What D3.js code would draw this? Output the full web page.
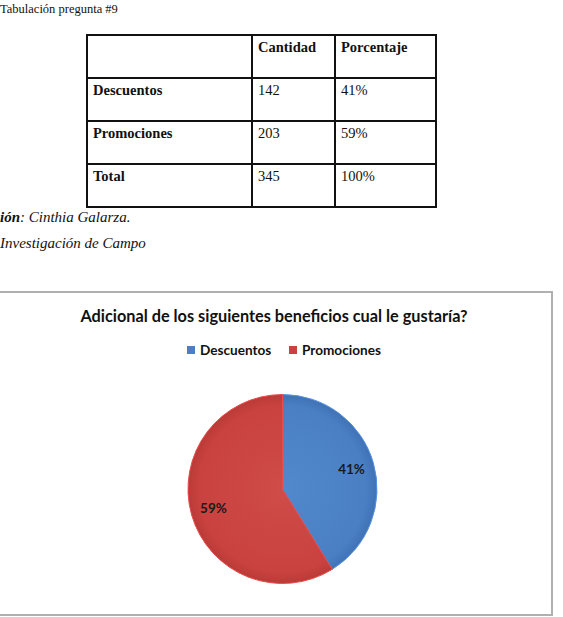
<!DOCTYPE html>
<meta charset="utf-8">
<style>
  body { margin: 0; background: #fff; }
  svg { display: block; }
  .serif { font-family: "Liberation Serif", "Times New Roman", serif; fill: #111; }
  .sans { font-family: Lato, "Open Sans", sans-serif; font-weight: bold; fill: #111; }
</style>
<body>
<script src="https://cdnjs.cloudflare.com/ajax/libs/d3/7.8.5/d3.min.js"></script>
<script>

// data
var categories = ["Descuentos", "Promociones"];
var cantidad = [142, 203];
var porcentaje = ["41%", "59%"];
var totalRow = ["Total", "345", "100%"];
var headers = ["", "Cantidad", "Porcentaje"];
var colors = ["#4a7fc4", "#c9423f"];

var W = 563, H = 617;

var svg = d3.select("body").append("svg")
    .attr("width", W)
    .attr("height", H);

svg.append("text")
    .attr("class", "serif")
    .attr("x", 0).attr("y", 13)
    .style("font-size", "12.5px")
    .text("Tabulación pregunta #9");

// ---- table ----
var rows = [headers];
categories.forEach(function(c, i) { rows.push([c, String(cantidad[i]), porcentaje[i]]); });
rows.push(totalRow);

var colX = d3.scaleOrdinal().domain([0, 1, 2, 3]).range([87, 252, 335, 436]);
var rowY = d3.scaleLinear().domain([0, rows.length]).range([35, 207]);

var table = svg.append("g");

rows.forEach(function(r, i) {
    r.forEach(function(cell, j) {
        table.append("text")
            .attr("class", "serif")
            .attr("x", colX(j) + 6)
            .attr("y", rowY(i) + 17)
            .style("font-size", "14.5px")
            .style("font-weight", (i == 0 || j == 0) ? "bold" : "normal")
            .text(cell);
    });
});

d3.range(rows.length + 1).forEach(function(i) {
    table.append("line")
        .attr("x1", colX(0)).attr("x2", colX(3))
        .attr("y1", rowY(i)).attr("y2", rowY(i))
        .attr("stroke", "#111").attr("stroke-width", 2);
});
d3.range(4).forEach(function(j) {
    table.append("line")
        .attr("x1", colX(j)).attr("x2", colX(j))
        .attr("y1", rowY(0) - 1).attr("y2", rowY(rows.length) + 1)
        .attr("stroke", "#111").attr("stroke-width", 2);
});

// captions (the scan shows them cut at the left edge)
var cap1 = svg.append("text").attr("class", "serif")
    .attr("x", 0).attr("y", 222)
    .style("font-size", "15px").style("font-style", "italic");
cap1.append("tspan").style("font-weight", "bold").text("ión");
cap1.append("tspan").text(": Cinthia Galarza.");

svg.append("text").attr("class", "serif")
    .attr("x", 0).attr("y", 248)
    .style("font-size", "15px").style("font-style", "italic")
    .text("Investigación de Campo");

// ---- chart box ----
svg.append("rect")
    .attr("x", -6).attr("y", 292)
    .attr("width", 558).attr("height", 323)
    .attr("fill", "#fff")
    .attr("stroke", "#b0b0b0").attr("stroke-width", 2);

svg.append("text")
    .attr("class", "sans")
    .attr("x", 274).attr("y", 322)
    .attr("text-anchor", "middle")
    .style("font-size", "16.3px")
    .text("Adicional de los siguientes beneficios cual le gustaría?");

// legend
var legX = d3.scaleOrdinal().domain(categories).range([187, 289]);
var leg = svg.selectAll("g.leg")
    .data(categories)
    .enter().append("g")
    .attr("class", "leg")
    .attr("transform", function(d) { return "translate(" + legX(d) + ",346)"; });

leg.append("rect")
    .attr("width", 8).attr("height", 8)
    .attr("fill", function(d, i) { return colors[i]; });

leg.append("text")
    .attr("class", "sans")
    .attr("x", 13).attr("y", 8.5)
    .style("font-size", "13.6px")
    .text(function(d) { return d; });

// ---- pie ----
var defs = svg.append("defs");
var grads = [["#5189cc", "#3f72b4"], ["#cf4c48", "#b93a37"]];
grads.forEach(function(g, i) {
    var rg = defs.append("radialGradient")
        .attr("id", "g" + i)
        .attr("gradientUnits", "userSpaceOnUse")
        .attr("cx", 0).attr("cy", 0).attr("r", 95);
    rg.append("stop").attr("offset", "0%").attr("stop-color", g[0]);
    rg.append("stop").attr("offset", "88%").attr("stop-color", colors[i]);
    rg.append("stop").attr("offset", "100%").attr("stop-color", g[1]);
});

var R = 94.5;
var pie = d3.pie().sort(null).value(function(d) { return d; });
var arc = d3.arc().innerRadius(0).outerRadius(R);
var labelArc = d3.arc().innerRadius(R * 0.76).outerRadius(R * 0.76);

var pg = svg.append("g").attr("transform", "translate(282.5,489)");

var slices = pie(cantidad);

pg.selectAll("path")
    .data(slices)
    .enter().append("path")
    .attr("d", arc)
    .attr("fill", function(d, i) { return "url(#g" + i + ")"; })
    .attr("stroke", function(d, i) { return d3.color(colors[i]).brighter(0.4); })
    .attr("stroke-width", 1);

pg.selectAll("text")
    .data(slices)
    .enter().append("text")
    .attr("class", "sans")
    .attr("transform", function(d) { return "translate(" + labelArc.centroid(d) + ")"; })
    .attr("text-anchor", "middle")
    .attr("dy", "0.35em")
    .style("font-size", "13.5px")
    .style("fill", "#1a1a1a")
    .text(function(d, i) { return porcentaje[i]; });

</script>
</body>
